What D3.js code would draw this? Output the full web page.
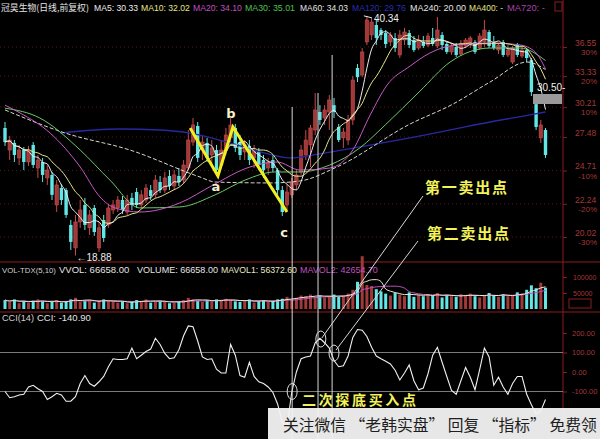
<!DOCTYPE html>
<html><head><meta charset="utf-8">
<script src="https://cdn.jsdelivr.net/npm/d3@7"></script>
<style>html,body{margin:0;padding:0;background:#000;overflow:hidden}svg{display:block}</style>
</head><body><svg id="c" width="600" height="439"></svg>
<script>
// ---------------- DATA ----------------
const stockTitle = "冠昊生物(日线,前复权)";
const openP = [28.28,26.37,26.97,25.72,26.37,25.39,26.80,24.91,25.39,24.14,
24.37,22.16,23.38,23.23,20.80,19.34,21.00,22.16,20.61,21.95,
19.34,21.13,20.80,21.81,21.95,22.51,21.67,22.66,23.09,22.16,
22.51,23.23,22.88,23.83,23.23,24.29,23.53,24.29,23.98,24.91,
27.05,28.46,26.37,26.97,25.96,26.37,25.15,26.37,27.41,28.28,
27.05,26.21,26.72,25.72,26.21,25.55,24.91,25.55,24.75,23.23,
22.16,22.88,23.61,24.60,25.96,26.80,28.10,29.75,29.19,29.75,
30.40,28.37,27.41,27.22,29.00,34.20,33.45,37.14,37.97,39.19,
38.57,38.21,37.14,37.61,35.64,37.37,38.21,37.37,36.43,37.14,
36.78,37.61,36.67,37.97,36.90,35.98,36.55,35.75,36.67,36.90,
37.14,36.43,37.14,38.33,37.14,36.20,37.14,35.64,34.85,36.78,
35.52,36.20,35.07,30.50,27.41,28.10];
const closeP = [27.05,27.22,25.96,26.37,25.39,26.37,25.15,25.55,24.37,24.75,
22.88,23.61,22.51,21.47,19.71,21.00,21.81,20.80,21.47,20.34,
20.61,19.96,21.95,22.16,22.51,21.81,22.51,22.16,22.16,22.88,
23.38,22.80,23.98,23.23,24.14,23.53,24.37,23.83,25.15,27.22,
28.55,25.72,27.05,25.72,26.55,24.75,26.37,27.66,28.55,26.55,
25.96,26.80,25.55,26.37,25.15,24.75,25.39,24.91,23.23,21.67,
23.09,23.83,24.37,26.37,27.22,28.28,29.94,29.00,29.94,30.90,
29.75,27.22,27.92,29.00,32.92,33.22,35.98,39.82,39.56,37.61,
37.97,36.90,37.97,36.43,37.97,38.33,36.78,36.20,37.37,36.67,
37.85,36.90,38.57,36.78,35.98,36.67,35.64,36.90,37.37,37.61,
35.98,37.85,38.57,36.67,36.43,36.78,35.64,36.20,36.43,35.64,
36.20,35.30,31.69,28.37,28.55,25.96];
const highP = [28.82,27.58,27.22,26.80,26.63,26.72,27.05,25.96,25.72,25.15,
24.60,23.98,23.68,23.38,21.13,21.47,22.51,22.66,21.81,22.16,
21.00,21.47,22.23,22.51,22.80,22.80,22.88,23.02,23.38,23.23,
23.68,23.61,24.37,24.29,24.60,24.75,24.75,24.91,25.55,28.10,
29.19,28.82,27.58,27.41,27.22,26.80,27.22,28.28,29.19,28.64,
27.66,27.22,27.22,26.80,26.55,25.96,25.72,25.96,24.91,23.53,
23.61,24.14,24.75,26.80,28.10,28.55,31.59,30.40,30.40,31.39,
31.10,28.64,28.28,29.47,33.33,34.63,36.43,40.34,40.07,39.82,
38.82,38.57,38.33,38.21,38.57,38.82,38.57,37.85,37.97,37.85,
38.21,38.82,40.20,38.33,37.14,37.02,37.02,37.37,37.61,37.85,
37.37,38.21,39.82,38.57,37.85,37.02,37.37,36.78,36.67,37.02,
36.67,36.43,35.30,30.90,29.00,28.28];
const lowP = [26.72,25.55,25.39,25.15,24.75,25.07,24.91,24.14,23.83,23.61,
22.51,21.67,22.16,21.27,19.21,18.88,20.61,20.47,20.15,20.09,
19.09,19.71,20.61,21.54,21.67,21.54,21.47,21.81,21.95,21.95,
22.30,22.51,22.66,23.02,23.02,23.23,23.23,23.53,23.68,24.75,
26.72,25.39,25.55,25.39,25.15,24.37,24.91,25.96,27.05,26.21,
25.55,25.55,25.15,24.91,24.75,24.14,24.37,24.60,22.88,21.40,
21.81,22.66,23.23,24.37,25.55,24.99,27.66,28.55,28.55,28.10,
29.19,27.05,26.55,26.80,28.55,32.71,33.22,36.78,37.37,36.78,
37.37,36.43,36.67,35.98,35.30,36.78,36.43,35.98,36.20,36.43,
36.55,36.67,36.43,36.20,35.75,35.64,35.41,35.52,36.43,36.43,
35.75,36.20,36.55,36.43,36.20,35.75,35.41,35.41,34.63,35.41,
35.30,34.85,31.29,28.10,26.97,25.72];
const volume = [28,22,30,18,25,20,26,30,24,18,22,28,20,25,30,35,22,26,28,20,
24,30,26,22,20,24,18,22,28,25,30,20,24,26,22,18,20,24,28,35,
30,26,22,28,24,30,26,32,28,24,22,26,30,20,24,28,22,26,30,
32,38,30,35,42,40,45,38,42,36,40,45,38,42,48,
60,85,165,75,72,62,55,48,42,50,45,40,52,38,44,40,46,42,50,36,
44,40,38,46,42,48,40,36,44,50,42,38,46,40,44,52,48,60,74,65,82,66.658].map(v=>v*1000);
const cci = [-100,-132,-127,-118,-114,-77,-68,-86,-100,-141,
-127,-109,-118,-150,-150,-127,-59,-18,-59,-73,
-50,-23,27,68,64,64,68,123,68,86,
105,118,173,141,95,68,73,114,186,236,
232,159,77,64,68,14,-5,-5,141,86,
-18,-27,50,-23,-50,-59,-77,-105,-164,-259,
-282,-105,0,68,77,82,150,173,150,123,
59,27,32,82,177,218,214,182,127,82,
68,55,41,9,-41,-5,36,-45,-91,-82,
-9,86,127,50,-23,-95,-114,-45,23,-27,
-91,14,123,77,-68,-27,-77,-114,-59,-23,
-23,-114,-168,-215,-200,-140.9];
const ma20Idx = [0,3.2,9.6,16,20.2,23.4,28.7,37.2,44.3,52.1,57.9,62.8,69.1,74,77.7,81.3,86.2,90.4,94.7,103.2,109.6,112.8,115];
const ma20Val = [30.40,29.66,27.83,24.99,22.73,21.95,21.67,22.30,23.61,24.99,25.39,24.75,24.91,26.37,29.47,32.40,34.41,35.86,36.67,37.02,36.78,35.98,34.10];
const ma30Idx = [0,7.4,16,22.3,28.7,37.2,44.7,51.1,57.4,62.8,69.1,75.5,80.9,88.3,94.7,103.2,109.6,115];
const ma30Val = [30.11,29.19,26.37,23.98,21.95,22.02,22.88,23.98,24.60,24.60,25.15,26.55,28.55,31.79,34.85,36.43,36.43,35.01];
const ma60Idx = [0,12.8,26.6,41.5,44.7,56.4,62.8,70.6,86.2,95.3,103.2,111.1,115];
const ma60Val = [29.94,27.83,26.37,24.21,23.83,23.76,23.91,24.99,28.64,30.50,32.71,34.85,34.03];
const ma120Idx = [11.7,24.5,33,39.4,47.9,54.3,60.6,67,75.5,86.2,94.7,103.2,111.7,115];
const ma120Val = [27.83,28.19,28.10,27.83,26.97,26.21,25.72,26.05,26.63,27.41,28.10,28.82,29.47,29.75];
const abcIdx = [39.4,45.3,48.5,60];
const abcPrice = [28.28,24.29,28.37,21.67];
const abcLabels = ["a","b","c"];
const priceTicks = [36.55,33.33,30.21,27.48,24.71,22.24,20.02];
const pctLabels = ["30%","20%","10%","","-10%","-20%","-30%"];
const volTicks = [100000,50000];
const cciTicks = [200,100,0,-100];
const mainHeader = ["MA5: 30.33","MA10: 32.02","MA20: 34.10","MA30: 35.01","MA60: 34.03","MA120: 29.76","MA240: 20.00","MA400: -","MA720: -"];
const volHeader = ["VOL-TDX(5,10)","VVOL: 66658.00","VOLUME: 66658.00","MAVOL1: 56372.60","MAVOL2: 42654.70"];
const cciHeader = ["CCI(14)","CCI: -140.90"];
const markIdx = [61.1,66.6,69.6];
const circleIdx = [61.1,67.2,70];
const circleVal = [-100,169,97];
const sellLabels = ["第一卖出点","第二卖出点"];
const buyLabel = "二次探底买入点";
const highLabel = "40.34", lowLabel = "←18.88", tagLabel = "30.50-";
const watermark = "关注微信 “老韩实盘” 回复 “指标” 免费领";

// ---------------- CHART ----------------
const svg = d3.select('#c');
const PR = 563;
const N = closeP.length;
const RED = "#c84a4a", CYAN = "#62e6e6", FRAME = "#8c1c1c", AX = "#a33838";
const x = d3.scaleLinear().domain([0,115]).range([5,545.5]);
const y = d3.scaleLog().domain([20.02,36.55]).range([237,47]);
const vy = d3.scaleLinear().domain([0,100000]).range([309,277]);
const cy = d3.scaleLinear().domain([-100,100]).range([391.5,352.5]);

// shrink a text's font so its natural width fits w
function fit(sel, w){
  sel.each(function(d,i){
    const ww = typeof w === 'function' ? w(d,i) : w;
    const n = this.getComputedTextLength();
    const fs = parseFloat(this.getAttribute('font-size'));
    if (n > ww) this.setAttribute('font-size', (fs*ww/n).toFixed(2));
  });
}

svg.append('rect').attr('width',600).attr('height',439).attr('fill','#000');
const defs = svg.append('defs');
[['mainClip',0,0,PR,262],['volClip',0,255,PR,57],['cciClip',0,312,PR,127]].forEach(c=>{
  defs.append('clipPath').attr('id',c[0]).append('rect').attr('x',c[1]).attr('y',c[2]).attr('width',c[3]).attr('height',c[4]);
});

svg.append('g').selectAll('line').data(priceTicks).join('line')
  .attr('x1',0).attr('x2',PR).attr('y1',d=>y(d)).attr('y2',d=>y(d))
  .attr('stroke','#5a1818').attr('stroke-dasharray','1,3');

svg.append('line').attr('x1',PR).attr('x2',PR).attr('y1',0).attr('y2',439).attr('stroke',FRAME);
[262,312].forEach(v=>svg.append('line').attr('x1',0).attr('x2',600).attr('y1',v).attr('y2',v).attr('stroke',FRAME));

const pa = svg.append('g').attr('transform',`translate(${PR},0)`)
  .call(d3.axisRight(y).tickValues(priceTicks).tickSize(4).tickPadding(8).tickFormat(d=>d.toFixed(2)));
pa.select('.domain').remove();
pa.selectAll('line').attr('stroke',FRAME);
pa.selectAll('text').attr('fill',AX).attr('font-size',8.5).attr('font-family','Liberation Sans, Arial').attr('dy','-0.2em');
svg.append('g').selectAll('text').data(priceTicks).join('text')
  .attr('x',597).attr('y',d=>y(d)+8).attr('text-anchor','end').attr('fill',AX)
  .attr('font-size',8).attr('font-family','Liberation Sans, Arial').text((d,i)=>pctLabels[i]);

const main = svg.append('g').attr('clip-path','url(#mainClip)');
const up = i => closeP[i] >= openP[i];
main.append('g').selectAll('line').data(d3.range(N)).join('line')
  .attr('x1',i=>x(i)).attr('x2',i=>x(i)).attr('y1',i=>y(highP[i])).attr('y2',i=>y(lowP[i]))
  .attr('stroke',i=>up(i)?RED:CYAN).attr('stroke-width',1);
const bw = 3.4;
main.append('g').selectAll('rect').data(d3.range(N)).join('rect')
  .attr('x',i=>x(i)-bw/2).attr('width',bw)
  .attr('y',i=>y(Math.max(openP[i],closeP[i])))
  .attr('height',i=>Math.max(1,y(Math.min(openP[i],closeP[i]))-y(Math.max(openP[i],closeP[i]))))
  .attr('fill',i=>up(i)?"#a03a3a":CYAN).attr('stroke',i=>up(i)?RED:'none').attr('stroke-width',0.6);

function sma(arr,n){return arr.map((_,i)=>d3.mean(arr.slice(Math.max(0,i-n+1),i+1)));}
const ma5 = sma(closeP,5), ma10 = sma(closeP,10);
const lineIdx = d3.line().x((d,i)=>x(i)).y(d=>y(d)).curve(d3.curveMonotoneX);
const lineS = (idx)=>d3.line().x((d,i)=>x(idx[i])).y(d=>y(d)).curve(d3.curveMonotoneX);
main.append('path').attr('d',lineS(ma120Idx)(ma120Val)).attr('fill','none').attr('stroke','#2828a0').attr('stroke-width',1.3);
main.append('path').attr('d',lineS(ma60Idx)(ma60Val)).attr('fill','none').attr('stroke','#d8d8c8').attr('stroke-width',1).attr('stroke-dasharray','4,2');
main.append('path').attr('d',lineS(ma30Idx)(ma30Val)).attr('fill','none').attr('stroke','#6cc86c').attr('stroke-width',1);
main.append('path').attr('d',lineS(ma20Idx)(ma20Val)).attr('fill','none').attr('stroke','#c858c8').attr('stroke-width',1);
main.append('path').attr('d',lineIdx(ma10)).attr('fill','none').attr('stroke','#e6e68a').attr('stroke-width',1);
main.append('path').attr('d',lineIdx(ma5)).attr('fill','none').attr('stroke','#eeeeee').attr('stroke-width',1);

const zig = d3.line().x((d,i)=>x(abcIdx[i])).y(d=>y(d));
svg.append('path').attr('d',zig(abcPrice)).attr('fill','none').attr('stroke','#f0f020').attr('stroke-width',3);
const abcOff = [15,-9,25];
svg.append('g').selectAll('text').data(abcLabels).join('text')
  .attr('x',(d,i)=>x(abcIdx[i+1])-(i==2?3:2)).attr('y',(d,i)=>y(abcPrice[i+1])+abcOff[i])
  .attr('fill','#f5f0c8').attr('font-size',13).attr('font-weight','bold')
  .attr('font-family','DejaVu Sans, sans-serif').attr('text-anchor','middle').text(d=>d);

const hiI = d3.maxIndex(highP), loI = d3.minIndex(lowP);
svg.append('line').attr('x1',x(hiI)-3).attr('x2',x(hiI)+5).attr('y1',y(highP[hiI])).attr('y2',y(highP[hiI])+2).attr('stroke','#eee');
svg.append('text').attr('x',x(hiI)+7).attr('y',y(highP[hiI])+6).attr('fill','#eee').attr('font-size',10)
  .attr('font-family','Liberation Sans, Arial').text(highLabel);
svg.append('text').attr('x',x(loI)+1).attr('y',y(lowP[loI])+5).attr('fill','#eee').attr('font-size',10)
  .attr('font-family','Liberation Sans, Arial').text(lowLabel);
svg.append('text').attr('x',537).attr('y',91).attr('fill','#eee').attr('font-size',10)
  .attr('font-family','Liberation Sans, Arial').text(tagLabel);
svg.append('rect').attr('x',533).attr('y',94).attr('width',29).attr('height',10).attr('fill','#9a9a9a');

// header
svg.append('text').attr('x',1).attr('y',11).attr('fill','#e4e4e4').attr('font-size',10)
  .attr('font-family','Noto Sans CJK SC, sans-serif').text(stockTitle).call(fit,88);
const hX = [94,141,193,245,300,352,410,469,507], hW=[44,49,49,50,48,54,56,34,38];
const hC = ['#eeeeee','#e6e68a','#c050c0','#50c050','#e4e4e4','#2c2cb0','#e4e4e4','#e6e68a','#b040b0'];
svg.append('g').selectAll('text').data(mainHeader).join('text')
  .attr('x',(d,i)=>hX[i]).attr('y',11).attr('fill',(d,i)=>hC[i]).attr('font-size',10)
  .attr('font-family','Liberation Sans, Arial').text(d=>d).call(fit,(d,i)=>hW[i]);
svg.append('rect').attr('x',555).attr('y',2).attr('width',7).attr('height',9).attr('fill','none').attr('stroke',FRAME);

// volume
const vol = svg.append('g').attr('clip-path','url(#volClip)');
vol.append('g').selectAll('rect').data(volume).join('rect')
  .attr('x',(d,i)=>x(i)-1.5).attr('width',3).attr('y',d=>vy(d)).attr('height',d=>vy(0)-vy(d))
  .attr('fill',(d,i)=>up(i)?"#a03a3a":CYAN);
const mv1 = sma(volume,5), mv2 = sma(volume,10);
const vline = d3.line().x((d,i)=>x(i)).y(d=>vy(d)).curve(d3.curveMonotoneX);
vol.append('path').attr('d',vline(mv2)).attr('fill','none').attr('stroke','#c050c0').attr('stroke-width',1);
vol.append('path').attr('d',vline(mv1)).attr('fill','none').attr('stroke','#e8e8d0').attr('stroke-width',1);
const vX=[2,59,137,221,300], vW=[54,75,81,76,78], vC=['#d0d0d0','#e4e4e4','#e4e4e4','#e8e8c8','#c050c0'];
svg.append('g').selectAll('text').data(volHeader).join('text')
  .attr('x',(d,i)=>vX[i]).attr('y',273).attr('fill',(d,i)=>vC[i]).attr('font-size',9.5)
  .attr('font-family','Liberation Sans, Arial').text(d=>d).call(fit,(d,i)=>vW[i]);
const va = svg.append('g').attr('transform',`translate(${PR},0)`)
  .call(d3.axisRight(vy).tickValues(volTicks).tickSize(4).tickPadding(6).tickFormat(d3.format('d')));
va.select('.domain').remove(); va.selectAll('line').attr('stroke',FRAME);
va.selectAll('text').attr('fill',AX).attr('font-size',7).attr('font-family','Liberation Sans, Arial');
svg.append('rect').attr('x',569).attr('y',299).attr('width',22).attr('height',9).attr('fill','none').attr('stroke',FRAME);

// CCI
svg.append('g').selectAll('line').data([100,-100]).join('line')
  .attr('x1',0).attr('x2',PR).attr('y1',d=>cy(d)).attr('y2',d=>cy(d)).attr('stroke','#7a7a7a');
const ca = svg.append('g').attr('transform',`translate(${PR},0)`)
  .call(d3.axisRight(cy).tickValues(cciTicks).tickSize(4).tickPadding(5).tickFormat(d=>d.toFixed(2)));
ca.select('.domain').remove(); ca.selectAll('line').attr('stroke',FRAME);
ca.selectAll('text').attr('fill',AX).attr('font-size',7.5).attr('font-family','Liberation Sans, Arial');
const cg = svg.append('g').attr('clip-path','url(#cciClip)');
cg.append('path').attr('d',d3.line().x((d,i)=>x(i)).y(d=>cy(d))(cci)).attr('fill','none').attr('stroke','#f0f0f0').attr('stroke-width',1.1);
cg.append('g').selectAll('ellipse').data(circleVal).join('ellipse')
  .attr('cx',(d,i)=>x(circleIdx[i])).attr('cy',d=>cy(d)).attr('rx',5).attr('ry',8)
  .attr('fill','none').attr('stroke','#e0e0e0').attr('stroke-width',1);
svg.append('text').attr('x',2).attr('y',321).attr('fill','#d0d0d0').attr('font-size',9.5)
  .attr('font-family','Liberation Sans, Arial').text(cciHeader[0]).call(fit,32);
svg.append('text').attr('x',37).attr('y',321).attr('fill','#e4e4e4').attr('font-size',9.5)
  .attr('font-family','Liberation Sans, Arial').text(cciHeader[1]).call(fit,54);

// markers and annotations
const mTop = [107,93,55];
svg.append('g').selectAll('line').data(markIdx).join('line')
  .attr('x1',d=>x(d)).attr('x2',d=>x(d)).attr('y1',(d,i)=>mTop[i]).attr('y2',439)
  .attr('stroke','#d8d8d8').attr('stroke-width',1);
svg.append('line').attr('x1',423).attr('y1',196).attr('x2',x(circleIdx[1])+1).attr('y2',cy(circleVal[1])-1).attr('stroke','#d8d8d8');
svg.append('line').attr('x1',418).attr('y1',241).attr('x2',x(circleIdx[2])+2).attr('y2',cy(circleVal[2])-3).attr('stroke','#d8d8d8');
svg.append('g').selectAll('text').data(sellLabels).join('text')
  .attr('x',(d,i)=>i?427:425).attr('y',(d,i)=>i?239:193).attr('fill','#f2f25a').attr('font-size',15).attr('font-weight','bold')
  .attr('font-family','Noto Sans CJK SC, sans-serif').attr('textLength',82).attr('lengthAdjust','spacing').text(d=>d);
svg.append('text').attr('x',302).attr('y',405).attr('fill','#f2f25a').attr('font-size',14).attr('font-weight','bold')
  .attr('font-family','Noto Sans CJK SC, sans-serif').attr('textLength',114).attr('lengthAdjust','spacing').text(buyLabel);

// watermark
svg.append('rect').attr('x',268).attr('y',408).attr('width',332).attr('height',31).attr('fill','#f3f3f3').attr('opacity',0.95);
svg.append('text').attr('x',283).attr('y',431).attr('fill','#1e1e1e').attr('font-size',17)
  .attr('font-family','Noto Sans CJK SC, sans-serif').text(watermark).call(fit,314);
</script></body></html>
